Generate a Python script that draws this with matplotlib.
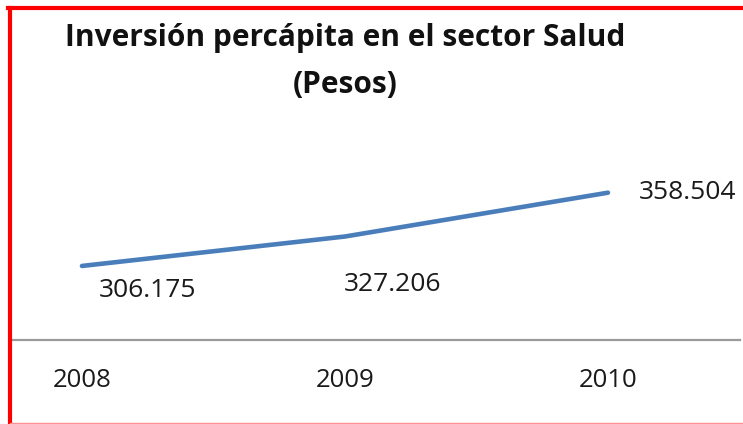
import matplotlib.pyplot as plt
from matplotlib.lines import Line2D

# ---------------- DATA ----------------
years = ["2008", "2009", "2010"]
values = [306.175, 327.206, 358.504]
value_labels = ["306.175", "327.206", "358.504"]
title_line1 = "Inversión percápita en el sector Salud"
title_line2 = "(Pesos)"

# ---------------- FIGURE ----------------
W, H = 743, 424
fig = plt.figure(figsize=(W / 100, H / 100), dpi=100)
plt.rcParams['font.family'] = ['Open Sans', 'DejaVu Sans']

# plot area in pixels: x 12..740, y 100..340
ax = fig.add_axes([12 / W, (H - 340) / H, 728 / W, 240 / H])
x = list(range(len(years)))
ax.plot(x, values, color='#4a7ebb', lw=3.3, solid_capstyle='round', solid_joinstyle='round')
ax.set_xlim(-0.266, 2.502)
ax.set_ylim(253.3, 424.7)

for s in ['top', 'right', 'left']:
    ax.spines[s].set_visible(False)
ax.spines['bottom'].set_color('#9a9a9a')
ax.spines['bottom'].set_linewidth(1.6)
ax.set_yticks([])
ax.set_xticks(x)
ax.set_xticklabels(years, fontsize=18.5, color='#1a1a1a')
ax.tick_params(axis='x', length=0, pad=20.5)

# data labels (offsets in points)
offsets = [(47.5, -18), (34.6, -34.6), (57.6, 0)]
for xi, v, lab, off in zip(x, values, value_labels, offsets):
    ax.annotate(lab, (xi, v), xytext=off, textcoords='offset points',
                ha='center', va='center', fontsize=19, color='#1a1a1a')

# title
fig.text(345 / W, 1 - 46 / H, title_line1, ha='center', va='baseline',
         fontsize=21.5, fontweight='bold', color='#111111')
fig.text(345 / W, 1 - 93 / H, title_line2, ha='center', va='baseline',
         fontsize=21.5, fontweight='bold', color='#111111')

# red frame (left and top), faint bottom
fig.add_artist(Line2D([10 / W, 10 / W], [0, 1 - 8 / H], color='#ff0000', lw=3, transform=fig.transFigure))
fig.add_artist(Line2D([8 / W, 1], [1 - 8 / H, 1 - 8 / H], color='#ff0000', lw=3, transform=fig.transFigure))
fig.add_artist(Line2D([10 / W, 1], [1.5 / H, 1.5 / H], color='#ff9090', lw=1, transform=fig.transFigure))

fig.savefig("out.png", dpi=100)
